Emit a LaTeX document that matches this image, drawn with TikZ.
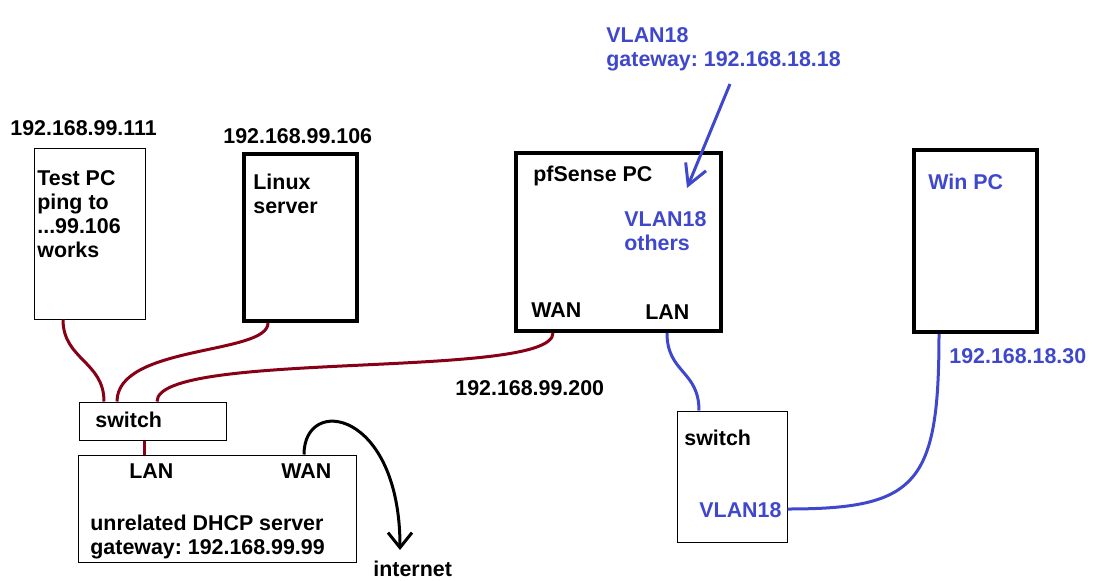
\documentclass[tikz,border=0pt]{standalone}
\usepackage{fontspec}
\setmainfont{Liberation Sans}
\usetikzlibrary{arrows.meta,positioning}
\definecolor{wirered}{RGB}{136,0,21}
\definecolor{vlanblue}{RGB}{63,72,204}
\frenchspacing

\begin{document}
\begin{tikzpicture}[x=0.5pt,y=-0.5pt,
    box/.style={draw,line width=0.5pt,inner sep=0pt},
    thickbox/.style={box,line width=2pt},
    txt/.style={anchor=north west,inner sep=0pt,align=left,
      font=\fontsize{10.7}{12}\selectfont\bfseries},
    wire/.style={draw=wirered,line width=1.5pt},
    vwire/.style={draw=vlanblue,line width=1.5pt},
    arrow/.style={line width=1.5pt,-{Straight Barb[length=#1]}}
  ]
    \useasboundingbox (0,0) rectangle (1099,580);
    \node[box,minimum width=55.5pt,minimum height=85.5pt] (tpc) at (89.5,233.5) {};
    \node[thickbox,minimum width=56.5pt,minimum height=83.5pt] (lnx) at (300.5,237.5) {};
    \node[thickbox,minimum width=102.5pt,minimum height=89pt] (pf) at (618.5,242) {};
    \node[thickbox,minimum width=61.5pt,minimum height=91pt] (win) at (975.5,241) {};
    \node[box,minimum width=73.5pt,minimum height=19pt] (swa) at (152.5,421) {};
    \node[box,minimum width=139pt,minimum height=53.5pt] (dhcp) at (217,508.5) {};
    \node[box,minimum width=55pt,minimum height=65.5pt] (swb) at (732,476.5) {};

    \node[txt] (tpcip) at (10,120) {192.168.99.111};
    \node[txt] (tpct) at (37,170) {Test PC\\ping to\\...99.106\\works};
    \node[txt] (lnxip) at (223,128) {192.168.99.106};
    \node[txt] (lnxt) at (253,174) {Linux\\server};
    \node[txt] (pft) at (533,166) {pfSense PC};
    \node[txt,vlanblue] (pfv) at (624,211) {VLAN18\\others};
    \node[txt] (pfwan) at (531,302) {WAN};
    \node[txt] (pflan) at (645,304) {LAN};
    \node[txt,vlanblue] (gw) at (606,27) {VLAN18\\gateway: 192.168.18.18};
    \node[txt,vlanblue] (wint) at (928,174) {Win PC};
    \node[txt,vlanblue] (winip) at (949,348) {192.168.18.30};
    \node[txt] (swat) at (95,412) {switch};
    \node[txt] (dlan) at (129,463) {LAN};
    \node[txt] (dwan) at (281,463) {WAN};
    \node[txt] (dt) at (90,515) {unrelated DHCP server\\gateway: 192.168.99.99};
    \node[txt] (inet) at (373,561) {internet};
    \node[txt] (wanip) at (455,380) {192.168.99.200};
    \node[txt] (swbt) at (684,430) {switch};
    \node[txt,vlanblue] (swbv) at (699,502) {VLAN18};

    \draw[wire] ([xshift=-13.25pt]tpc.south) to[out=-90,in=90,out distance=20pt,in distance=20pt] ([xshift=-24.25pt]swa.north);
    \draw[wire] ([xshift=-16.25pt]lnx.south) to[out=-90,in=90,out distance=16pt,in distance=28.5pt] ([xshift=-17.75pt]swa.north);
    \draw[wire] ([xshift=-32.75pt]pf.south) to[out=-90,in=90,out distance=23.5pt,in distance=26pt] ([xshift=2.25pt]swa.north);
    \draw[wire] ([xshift=-4.25pt]swa.south) -- ([xshift=-4.25pt]swa.south |- dhcp.north);
    \draw[vwire] ([xshift=24.25pt]pf.south) to[out=-90,in=90,out distance=20pt,in distance=20pt] ([xshift=-16.5pt]swb.north);
    \draw[vwire] ([xshift=-18.25pt]win.south) to[out=-90,in=0,out distance=75pt,in distance=65pt] ([yshift=-16.25pt]swb.east);
    \draw[arrow={10pt,width=11pt},vlanblue] ([xshift=62pt,yshift=-28.5pt]gw.north west) -- ([xshift=31.5pt,yshift=11.5pt]pfv.north west);
    \draw[arrow={7.5pt,width=12pt}] ([xshift=43.5pt]dhcp.north) to[out=90,in=90,out distance=30pt,in distance=70pt] ([xshift=13.5pt,yshift=5.5pt]inet.north west);
\end{tikzpicture}
\end{document}
